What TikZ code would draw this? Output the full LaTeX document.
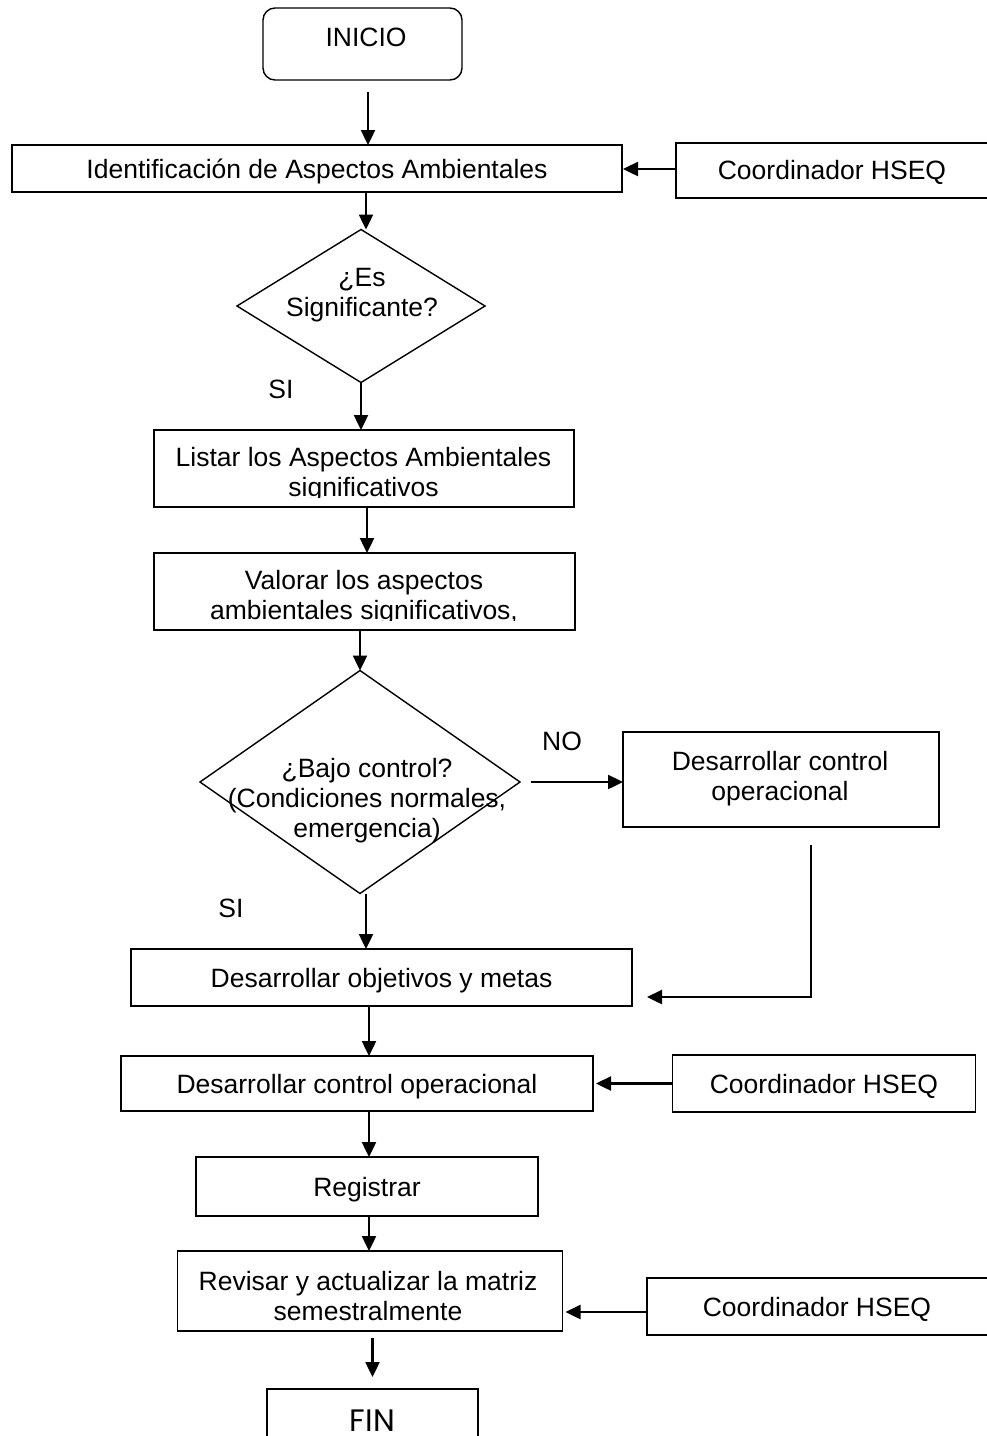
\documentclass[tikz,border=0pt]{standalone}
\usepackage{fontspec}
\setmainfont{Liberation Sans}
\newfontfamily\finfont{Poppins}
\usetikzlibrary{arrows.meta,shapes.geometric}
\begin{document}
\begin{tikzpicture}[x=1pt,y=-1pt,
  every node/.style={font=\fontsize{26.5}{30}\selectfont, inner sep=0pt, outer sep=0pt},
  box/.style={draw, line width=1.7pt, rectangle, text height=19pt, text depth=0pt},
  txt/.style={align=center},
  decision/.style={draw, diamond, line width=1.4pt, inner sep=0pt},
  arr/.style={line width=2.4pt, -{Triangle[length=15pt,width=14pt]}},
]
\useasboundingbox (0,0) rectangle (987,1436);
\clip (0,0) rectangle (987,1436);

% start
\node[box, line width=1.4pt, rounded corners=12pt, minimum width=199pt, minimum height=72pt] (inicio) at (362.5,44) {};
\node[txt] (iniciotxt) at (366,37) {INICIO};

% identification
\node[box, minimum width=610pt, minimum height=47pt] (id) at (317,168.5) {Identificación de Aspectos Ambientales};
\node[box, minimum width=314pt, minimum height=55pt] (hseq1) at (833,170.5) {};
\node[box, draw=none] (hseq1txt) at (832,170) {Coordinador HSEQ};

% first decision
\node[decision, minimum width=248pt, minimum height=153pt] (d1) at (361,306) {};
\node[txt] (d1txt) at (362,295) {¿Es\\Significante?};
\node[box, draw=none] (si1) at (281,389) {SI};

% listing and valuation (text clipped by the box)
\node[box, minimum width=420pt, minimum height=77pt] (listar) at (364,468.5) {};
\begin{scope}
  \clip (154,430) rectangle (574,497);
  \node[txt] (listartxt) at (363.5,475) {Listar los Aspectos Ambientales\\significativos};
\end{scope}
\node[box, minimum width=421pt, minimum height=77pt] (valorar) at (364.5,591.5) {};
\begin{scope}
  \clip (154,553) rectangle (575,620);
  \node[txt] (valorartxt) at (364,598) {Valorar los aspectos\\ambientales significativos,};
\end{scope}

% second decision
\node[decision, minimum width=320pt, minimum height=223pt] (d2) at (360,782) {};
\node[txt] (d2txt) at (367,800.5) {¿Bajo control?\\(Condiciones normales,\\emergencia)};
\node[box, draw=none] (no) at (562,741) {NO};
\node[box, draw=none] (si2) at (231,908) {SI};
\node[box, minimum width=316pt, minimum height=95pt] (dco) at (781,779.5) {};
\node[txt] (dcotxt) at (780,779) {Desarrollar control\\operacional};

% lower chain
\node[box, minimum width=501pt, minimum height=57pt] (obj) at (381.5,977.5) {Desarrollar objetivos y metas};
\node[box, minimum width=472pt, minimum height=55pt] (dco2) at (357,1083.5) {Desarrollar control operacional};
\node[box, minimum width=303pt, minimum height=57pt] (hseq2) at (824,1083.5) {Coordinador HSEQ};
\node[box, minimum width=342pt, minimum height=59pt] (reg) at (367,1186.5) {Registrar};
\node[box, minimum width=385pt, minimum height=80pt] (rev) at (370,1291) {};
\node[txt] (revtxt) at (368,1296) {Revisar y actualizar la matriz\\semestralmente};
\node[box, minimum width=343pt, minimum height=57pt] (hseq3) at (818.5,1306.5) {};
\node[box, draw=none] (hseq3txt) at (817,1307) {Coordinador HSEQ};

% end
\node[box, line width=1.4pt, minimum width=211pt, minimum height=76pt] (fin) at (372.5,1427) {};
\node[font=\finfont\fontsize{31}{33}\selectfont, text height=22pt, text depth=0pt] (fintxt) at (372.5,1420) {FIN};

% connectors
\draw[arr] ([shift={(5.5pt,-12pt)}]inicio.south) -- ([xshift=51pt]id.north);
\draw[arr] ([yshift=1.5pt]hseq1.west) -- ([xshift=1pt,yshift=-0.5pt]id.east);
\draw[arr] ([xshift=49pt]id.south) -- ([xshift=49pt]id.south |- d1.north);
\draw[arr] (d1.south) -- (d1.south |- listar.north);
\draw[arr] ([xshift=3pt]listar.south) -- ([xshift=3pt]listar.south |- valorar.north);
\draw[arr] (valorar.south -| d2.north) -- (d2.north);
\draw[arr] ([xshift=10.5pt]d2.east) -- (dco.west |- d2.east);
\draw[arr] ([xshift=6pt]d2.south) -- ([xshift=6pt]d2.south |- obj.north);
\coordinate (back) at ([shift={(30pt,-18pt)}]dco.south);
\draw[arr] (back) |- ([shift={(15pt,-19.5pt)}]obj.east);
\draw[arr] ([xshift=-12.5pt]obj.south) -- ([xshift=-12.5pt]obj.south |- dco2.north);
\draw[arr] (hseq2.west) -- ([xshift=3pt]dco2.east);
\draw[arr] ([xshift=12pt]dco2.south) -- ([xshift=12pt]dco2.south |- reg.north);
\draw[arr] ([xshift=2pt]reg.south) -- ([xshift=2pt]reg.south |- rev.north);
\draw[arr] ([yshift=-5.5pt]hseq3.west) -- ([shift={(3pt,-21pt)}]rev.east);
\draw[arr] ([shift={(2.5pt,-7pt)}]rev.south) -- ([yshift=12pt]fin.north);
\end{tikzpicture}
\end{document}
